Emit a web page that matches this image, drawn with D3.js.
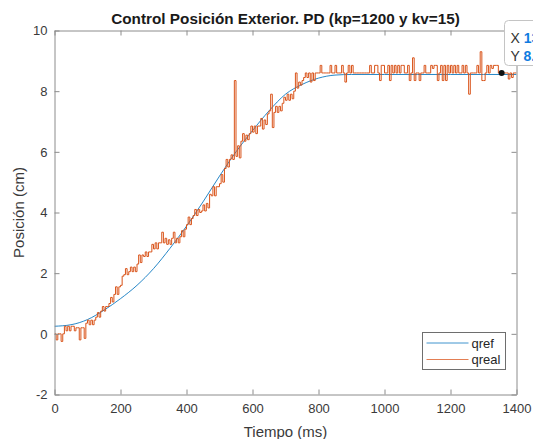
<!DOCTYPE html>
<html>
<head>
<meta charset="utf-8">
<script src="https://cdn.jsdelivr.net/npm/d3@7"></script>
<style>
  body { margin: 0; background: #fff; }
  svg { display: block; font-family: "Liberation Sans", Arial, Helvetica, sans-serif; }
</style>
</head>
<body>
<svg id="chart" width="533" height="439"></svg>
<script>
// Axis ticks
const xTicks = [0, 200, 400, 600, 800, 1000, 1200, 1400];
const yTicks = [-2, 0, 2, 4, 6, 8, 10];

// Reference trajectory qref (time in ms, position in cm)
const refTime  = [0, 50, 100, 150, 200, 250, 300, 350, 400, 450, 500, 550, 600, 650, 700, 750, 800, 850, 900, 1000, 1100, 1200, 1300, 1400];
const refValue = [0.25, 0.3, 0.47, 0.78, 1.16, 1.6, 2.15, 2.82, 3.55, 4.35, 5.2, 6.0, 6.7, 7.35, 7.9, 8.22, 8.43, 8.53, 8.55, 8.55, 8.55, 8.55, 8.55, 8.55];

// Measured position qreal, one sample every 5 ms (rows of 100 ms)
const realPeriod = 5;
const realValue = [
  0, -0.2, 0, 0, -0.25, 0, 0.25, 0.1, 0.25, 0.1, 0.25, 0.25, 0.1, 0.2, 0.2, -0.2, 0.2, 0.2, -0.15, 0.35,
  0.45, 0.3, 0.45, 0.3, 0.45, 0.55, 0.7, 0.55, 0.75, 0.9, 0.75, 0.9, 0.9, 1.0, 1.2, 1.05, 1.3, 1.55, 1.3, 1.55,
  1.6, 1.9, 1.95, 2.15, 1.95, 2.05, 2.2, 2.05, 2.2, 2.05, 2.3, 2.6, 2.35, 2.6, 2.55, 2.7, 2.55, 2.7, 2.7, 2.95,
  2.8, 3.0, 2.8, 3.0, 3.0, 3.35, 3.0, 3.15, 2.95, 3.1, 2.95, 3.15, 3.35, 3.0, 3.15, 3.0, 3.2, 3.4, 3.2, 3.45,
  3.6, 3.85, 3.6, 3.8, 3.9, 4.1, 3.9, 4.1, 4.0, 4.05, 4.25, 4.05, 4.3, 4.15, 4.6, 4.55, 4.85, 4.55, 4.85, 4.85,
  4.95, 5.25, 5.0, 5.45, 5.75, 5.5, 5.75, 5.9, 5.75, 8.35, 5.85, 6.2, 5.8, 6.35, 6.6, 6.35, 6.55, 6.4, 6.6, 6.85,
  6.65, 6.85, 6.6, 6.85, 6.85, 7.1, 6.75, 7.05, 6.9, 7.25, 7.35, 7.9, 6.8, 7.3, 7.5, 7.3, 7.5, 7.35, 7.6, 7.8,
  7.7, 7.9, 7.7, 7.9, 7.75, 8.0, 8.6, 8.1, 8.3, 8.2, 8.35, 8.45, 8.6, 8.45, 8.6, 8.3, 8.6, 8.35, 8.6, 8.6,
  8.6, 8.85, 8.6, 8.6, 8.6, 8.6, 8.6, 8.85, 8.6, 8.6, 8.85, 8.6, 8.6, 8.6, 8.85, 8.6, 8.3, 8.6, 8.85, 8.6,
  8.85, 8.6, 8.6, 8.6, 8.6, 8.6, 8.6, 8.6, 8.6, 8.6, 8.6, 8.85, 8.6, 8.6, 8.85, 8.85, 8.6, 8.35, 8.85, 8.85,
  8.6, 8.6, 8.85, 8.35, 8.85, 8.6, 8.85, 8.6, 8.85, 8.6, 8.85, 8.85, 8.6, 8.6, 8.85, 8.35, 8.6, 9.1, 8.35, 8.6,
  8.6, 8.35, 8.6, 8.6, 8.85, 8.6, 8.6, 8.6, 8.85, 8.75, 8.85, 8.85, 8.35, 8.6, 8.85, 8.35, 8.85, 8.35, 8.85, 8.6,
  8.85, 8.6, 8.85, 8.6, 8.85, 8.6, 8.6, 8.85, 8.6, 8.85, 8.6, 7.9, 8.6, 8.6, 8.6, 8.6, 8.85, 8.6, 9.3, 8.35,
  8.35, 8.6, 8.85, 8.6, 8.85, 8.75, 8.85, 8.85, 8.85, 8.6, 8.6, 8.6, 8.6, 8.6, 8.6, 8.4, 8.6, 8.45, 8.6, 8.6,
  8.6
];

const seriesNames = ["qref", "qreal"];
const seriesColors = ["#0072BD", "#D95319"];
const tipTime = 1355;   // data cursor on qreal

const svg = d3.select("#chart");
const W = 533, H = 439;
const plot = { left: 54.5, right: 516.5, top: 30.5, bottom: 394.5 };

const x = d3.scaleLinear().domain([0, 1400]).range([plot.left, plot.right]);
const y = d3.scaleLinear().domain([-2, 10]).range([plot.bottom, plot.top]);

const axisColor = "#8c8c8c";
const textColor = "#3a3a3a";
const plainNumber = d => String(d);

svg.append("rect").attr("width", W).attr("height", H).attr("fill", "#fff");

// clip for data lines
svg.append("defs").append("clipPath").attr("id", "plotClip")
  .append("rect")
  .attr("x", plot.left).attr("y", plot.top)
  .attr("width", plot.right - plot.left).attr("height", plot.bottom - plot.top);

const realData = realValue.map((v, i) => ({ t: i * realPeriod, v }));
const refData = refTime.map((t, i) => ({ t, v: refValue[i] }));

const lines = svg.append("g").attr("clip-path", "url(#plotClip)");

lines.append("path")
  .datum(refData)
  .attr("fill", "none")
  .attr("stroke", seriesColors[0])
  .attr("stroke-width", 1)
  .attr("stroke-opacity", 0.85)
  .attr("d", d3.line().x(d => x(d.t)).y(d => y(d.v)).curve(d3.curveMonotoneX));

lines.append("path")
  .datum(realData)
  .attr("fill", "none")
  .attr("stroke", seriesColors[1])
  .attr("stroke-width", 1)
  .attr("d", d3.line().x(d => x(d.t)).y(d => y(d.v)).curve(d3.curveStepAfter));

// axes (ticks on all four sides, pointing inward)
function styleAxis(g) {
  g.select(".domain").attr("stroke", axisColor);
  g.selectAll(".tick line").attr("stroke", axisColor);
  g.selectAll(".tick text").attr("fill", textColor).style("font-size", "13px")
    .style("font-family", '"Liberation Sans", Arial, sans-serif');
}

svg.append("g")
  .attr("transform", `translate(0,${plot.bottom})`)
  .call(d3.axisBottom(x).tickValues(xTicks).tickFormat(plainNumber).tickSizeInner(-5).tickSizeOuter(0).tickPadding(9))
  .call(styleAxis);

svg.append("g")
  .attr("transform", `translate(0,${plot.top})`)
  .call(d3.axisTop(x).tickValues(xTicks).tickSizeInner(-5).tickSizeOuter(0).tickFormat(""))
  .call(styleAxis);

svg.append("g")
  .attr("transform", `translate(${plot.left},0)`)
  .call(d3.axisLeft(y).tickValues(yTicks).tickFormat(plainNumber).tickSizeInner(-5).tickSizeOuter(0).tickPadding(7))
  .call(styleAxis);

svg.append("g")
  .attr("transform", `translate(${plot.right},0)`)
  .call(d3.axisRight(y).tickValues(yTicks).tickSizeInner(-5).tickSizeOuter(0).tickFormat(""))
  .call(styleAxis);

// title and axis labels
svg.append("text")
  .attr("x", (plot.left + plot.right) / 2).attr("y", 24)
  .attr("text-anchor", "middle")
  .attr("fill", "#1a1a1a")
  .style("font-size", "15.3px").style("font-weight", "bold")
  .text("Control Posición Exterior. PD (kp=1200 y kv=15)");

svg.append("text")
  .attr("x", (plot.left + plot.right) / 2).attr("y", 437)
  .attr("text-anchor", "middle")
  .attr("fill", textColor)
  .style("font-size", "15px")
  .text("Tiempo (ms)");

svg.append("text")
  .attr("transform", `translate(24,${(plot.top + plot.bottom) / 2}) rotate(-90)`)
  .attr("text-anchor", "middle")
  .attr("fill", textColor)
  .style("font-size", "15px")
  .text("Posición (cm)");

// legend
const legend = svg.append("g").attr("transform", "translate(422.5,332.5)");
legend.append("rect")
  .attr("width", 83).attr("height", 37)
  .attr("fill", "#fff").attr("stroke", "#6e6e6e").attr("stroke-width", 1);
seriesNames.forEach((name, i) => {
  const ly = 10.5 + i * 16.5;
  legend.append("line")
    .attr("x1", 4).attr("x2", 46).attr("y1", ly).attr("y2", ly)
    .attr("stroke", seriesColors[i]).attr("stroke-width", 1).attr("stroke-opacity", 0.75);
  legend.append("text")
    .attr("x", 49).attr("y", ly).attr("dy", "0.35em")
    .attr("fill", "#262626").style("font-size", "13px")
    .text(name);
});

// data cursor on qreal
const tipIndex = Math.round(tipTime / realPeriod);
const tipValue = realValue[tipIndex];
svg.append("circle")
  .attr("cx", x(tipTime)).attr("cy", y(tipValue)).attr("r", 3)
  .attr("fill", "#111");

const tip = svg.append("g").attr("transform", "translate(504.5,20.5)");
tip.append("rect")
  .attr("width", 70).attr("height", 45).attr("rx", 4)
  .attr("fill", "#fff").attr("stroke", "#c4c4c4");
const tipRows = [["X", String(tipTime)], ["Y", String(tipValue)]];
tipRows.forEach((r, i) => {
  const t = tip.append("text")
    .attr("x", 6).attr("y", 22 + i * 18.5)
    .style("font-size", "14px");
  t.append("tspan").attr("fill", "#333").text(r[0] + " ");
  t.append("tspan").attr("fill", "#0f7be0").style("font-weight", "bold").text(r[1]);
});
</script>
</body>
</html>
